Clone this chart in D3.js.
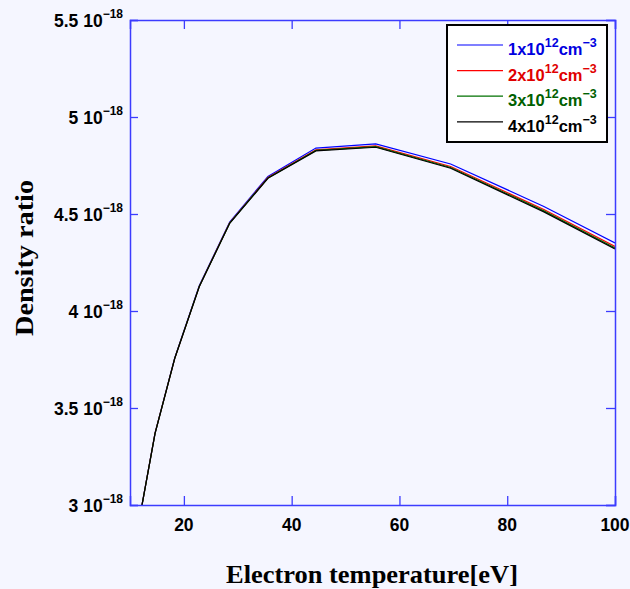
<!DOCTYPE html>
<html lang="en">

<head>
  <meta charset="utf-8">
  <title>Density ratio vs electron temperature</title>
  <script type="text/javascript" src="https://cdn.jsdelivr.net/npm/d3@7"></script>
  <style type="text/css">
    body { margin: 0; background: #f5f6ff; }
    svg { display: block; }
  </style>
</head>

<body>
  <script type="text/javascript">

    // Width og height
    const w = 630;
    const h = 589;

    // Data (density ratio in units of 1e-18)
    const temperature = [11.7, 14.65, 18.3, 22.85, 28.5, 35.6, 44.5, 55.6, 69.5, 86.8, 100];
    const density1 = [2.920, 3.371, 3.758, 4.130, 4.459, 4.694, 4.840, 4.861, 4.758, 4.539, 4.351];
    const density2 = [2.919, 3.370, 3.756, 4.127, 4.455, 4.688, 4.831, 4.851, 4.745, 4.523, 4.333];
    const density3 = [2.919, 3.369, 3.756, 4.126, 4.453, 4.686, 4.828, 4.847, 4.740, 4.516, 4.325];
    const density4 = [2.919, 3.369, 3.755, 4.125, 4.452, 4.684, 4.825, 4.844, 4.736, 4.511, 4.320];
    const seriesNames = ["1x10", "2x10", "3x10", "4x10"];
    const xTicks = [20, 40, 60, 80, 100];
    const yTicks = [3, 3.5, 4, 4.5, 5, 5.5];

    const seriesColors = ["#0000ff", "#ff0000", "#007000", "#000000"];
    const textColors = ["#0000e0", "#e00000", "#006000", "#000000"];
    const axisColor = "#3c3cff";

    const margin = { left: 130, right: 15, top: 20, bottom: 84 };

    const x = d3.scaleLinear()
      .domain([10, 100])
      .range([margin.left, w - margin.right]);

    const y = d3.scaleLinear()
      .domain([3, 5.5])
      .range([h - margin.bottom, margin.top]);

    const svg = d3.select("body")
      .append("svg")
      .attr("width", w)
      .attr("height", h);

    svg.append("rect")
      .attr("width", w)
      .attr("height", h)
      .attr("fill", "#f5f6ff");

    svg.append("clipPath")
      .attr("id", "plotclip")
      .append("rect")
      .attr("x", x(10))
      .attr("y", y(5.5))
      .attr("width", x(100) - x(10))
      .attr("height", y(3) - y(5.5));

    // Linjerne
    const series = [density1, density2, density3, density4];
    const line = d3.line()
      .x(function (d) { return x(d[0]); })
      .y(function (d) { return y(d[1]); });

    svg.append("g")
      .attr("clip-path", "url(#plotclip)")
      .selectAll("path")
      .data(series)
      .enter()
      .append("path")
      .attr("d", function (d) {
        return line(d.map(function (v, i) { return [temperature[i], v]; }));
      })
      .attr("fill", "none")
      .attr("stroke", function (d, i) { return seriesColors[i]; })
      .attr("stroke-width", 1.2);

    // Akser (ticks peger ind)
    const bottomAxis = d3.axisBottom(x).tickValues(xTicks).tickSize(-9).tickFormat("");
    const topAxis = d3.axisTop(x).tickValues(xTicks).tickSize(-9).tickFormat("");
    const leftAxis = d3.axisLeft(y).tickValues(yTicks).tickSize(-8).tickFormat("");
    const rightAxis = d3.axisRight(y).tickValues(yTicks).tickSize(-9).tickFormat("");

    function styleAxis(g) {
      g.select(".domain").attr("stroke", axisColor).attr("stroke-width", 1.5);
      g.selectAll(".tick line").attr("stroke", axisColor).attr("stroke-width", 1.3);
    }

    svg.append("g").attr("transform", "translate(0," + y(3) + ")").call(bottomAxis).call(styleAxis);
    svg.append("g").attr("transform", "translate(0," + y(5.5) + ")").call(topAxis).call(styleAxis);
    svg.append("g").attr("transform", "translate(" + x(10) + ",0)").call(leftAxis).call(styleAxis);
    svg.append("g").attr("transform", "translate(" + x(100) + ",0)").call(rightAxis).call(styleAxis);

    // Tick labels
    const tickFont = "'Liberation Sans', Arial, sans-serif";

    svg.append("g")
      .selectAll("text")
      .data(xTicks)
      .enter()
      .append("text")
      .attr("x", function (d) { return x(d); })
      .attr("y", y(3) + 26)
      .attr("text-anchor", "middle")
      .attr("font-family", tickFont)
      .attr("font-weight", "bold")
      .attr("font-size", 17.5)
      .text(function (d) { return d; });

    const yLabels = svg.append("g")
      .selectAll("text")
      .data(yTicks)
      .enter()
      .append("text")
      .attr("x", 123)
      .attr("y", function (d) { return y(d) + 6.5; })
      .attr("text-anchor", "end")
      .attr("font-family", tickFont)
      .attr("font-weight", "bold")
      .attr("font-size", 17.5);

    yLabels.append("tspan")
      .text(function (d) { return d + " 10"; });
    yLabels.append("tspan")
      .attr("dy", -9)
      .attr("font-size", 12)
      .text("\u221218");

    // Akse-titler
    svg.append("text")
      .attr("x", 372)
      .attr("y", 583)
      .attr("text-anchor", "middle")
      .attr("font-family", "'Liberation Serif', 'Times New Roman', serif")
      .attr("font-weight", "bold")
      .attr("font-size", 26)
      .attr("textLength", 292)
      .attr("lengthAdjust", "spacingAndGlyphs")
      .text("Electron temperature[eV]");

    svg.append("text")
      .attr("transform", "translate(33,258) rotate(-90)")
      .attr("text-anchor", "middle")
      .attr("font-family", "'Liberation Serif', 'Times New Roman', serif")
      .attr("font-weight", "bold")
      .attr("font-size", 26)
      .attr("textLength", 156)
      .attr("lengthAdjust", "spacingAndGlyphs")
      .text("Density ratio");

    // Legend
    const legend = svg.append("g");

    legend.append("rect")
      .attr("x", 447)
      .attr("y", 25)
      .attr("width", 160)
      .attr("height", 117)
      .attr("fill", "#ffffff")
      .attr("stroke", "#000000")
      .attr("stroke-width", 2);

    const items = legend.selectAll("g.item")
      .data(seriesNames)
      .enter()
      .append("g")
      .attr("class", "item")
      .attr("transform", function (d, i) { return "translate(0," + (45 + i * 25.6) + ")"; });

    items.append("line")
      .attr("x1", 457)
      .attr("x2", 503)
      .attr("stroke", function (d, i) { return seriesColors[i]; })
      .attr("stroke-width", 1.2);

    const labels = items.append("text")
      .attr("x", 508)
      .attr("y", 10)
      .attr("font-family", tickFont)
      .attr("font-weight", "bold")
      .attr("font-size", 16.5)
      .attr("fill", function (d, i) { return textColors[i]; });

    labels.append("tspan").text(function (d) { return d; });
    labels.append("tspan").attr("dy", -8).attr("font-size", 12.5).text("12");
    labels.append("tspan").attr("dy", 8).text("cm");
    labels.append("tspan").attr("dy", -8).attr("font-size", 12.5).text("\u22123");

  </script>
</body>

</html>
